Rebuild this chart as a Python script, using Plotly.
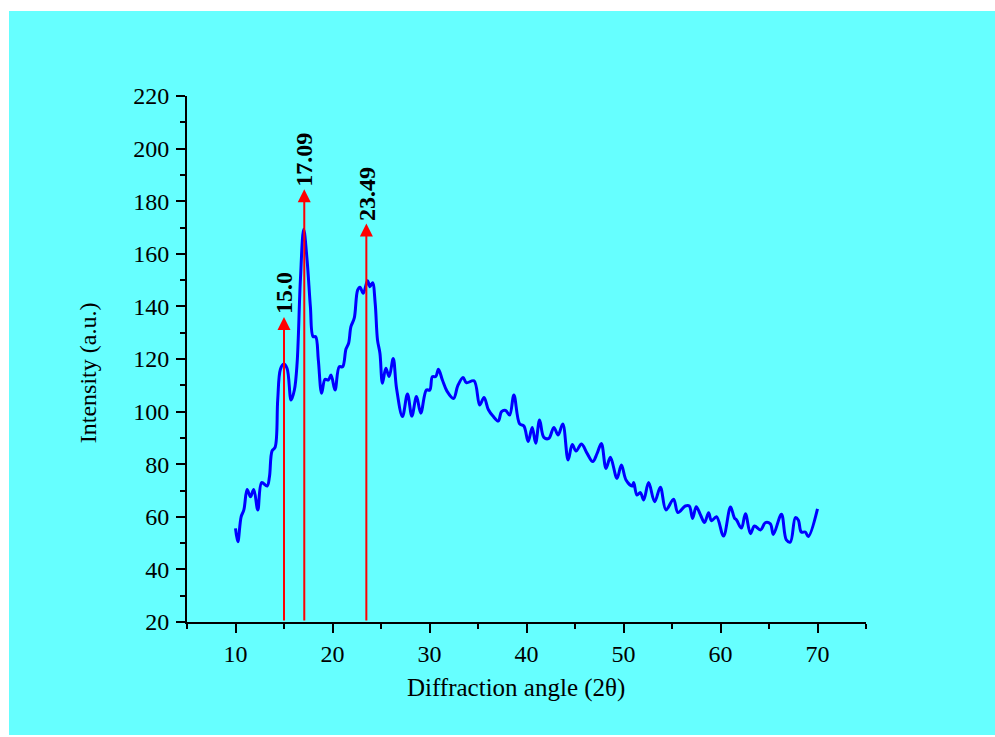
import plotly.graph_objects as go

# Diffraction data (2θ, intensity)
two_theta = [10.00, 10.24, 10.58, 10.86, 11.20, 11.54, 11.88, 12.30, 12.70, 13.26, 13.50, 13.77,
             14.08, 14.35, 14.63, 14.97, 15.32, 15.73, 16.07, 16.35, 16.69, 17.03, 17.38, 17.72,
             18.00, 18.26, 18.54, 18.88, 19.23, 19.57, 19.85, 20.26, 20.70, 21.04, 21.39, 21.66,
             21.90, 22.24, 22.59, 22.83, 23.17, 23.61, 23.86, 24.13, 24.40, 24.64, 24.89, 25.15,
             25.50, 25.84, 26.26, 26.60, 27.21, 27.73, 28.18, 28.66, 29.10, 29.68, 30.03, 30.30,
             30.64, 30.92, 31.33, 31.80, 32.48, 32.92, 33.46, 33.80, 34.59, 35.17, 35.62, 36.06,
             36.54, 37.09, 37.43, 37.85, 38.26, 38.70, 39.29, 39.73, 40.17, 40.59, 40.94, 41.35,
             41.79, 42.30, 42.82, 43.26, 43.74, 44.29, 44.72, 45.11, 45.67, 46.25, 46.83, 47.28,
             47.72, 48.20, 48.65, 49.33, 49.78, 50.26, 50.88, 51.05, 51.39, 51.74, 52.08, 52.59,
             53.21, 53.80, 54.38, 55.16, 55.61, 56.37, 56.78, 57.12, 57.50, 57.94, 58.35, 58.77,
             59.07, 59.59, 60.31, 61.03, 61.44, 61.65, 62.16, 62.57, 63.09, 63.50, 64.12, 64.63,
             65.14, 65.45, 66.28, 66.79, 67.20, 67.72, 68.02, 68.33, 68.74, 69.05, 70.00]
intensity = [55.6, 50.5, 60.0, 62.6, 70.4, 67.6, 70.4, 62.6, 73.0, 71.7, 75.2, 85.1,
             86.4, 104.4, 116.1, 118.1, 116.4, 104.4, 108.2, 118.4, 150.0, 169.3, 157.6, 139.9,
             128.5, 128.5, 119.6, 107.0, 112.3, 112.0, 113.9, 108.2, 117.1, 117.0, 123.8, 126.0,
             132.3, 135.5, 146.2, 147.3, 145.0, 149.8, 147.5, 149.0, 141.2, 127.2, 122.2, 110.8,
             116.5, 113.3, 120.2, 108.9, 98.1, 106.7, 98.3, 105.7, 99.4, 108.2, 108.2, 113.3,
             113.3, 116.1, 112.0, 107.8, 105.0, 109.9, 113.0, 111.0, 111.7, 102.5, 105.4, 100.8,
             98.3, 96.4, 100.0, 100.4, 98.7, 106.3, 95.3, 94.5, 88.6, 94.0, 88.0, 96.8,
             90.2, 89.8, 94.0, 91.1, 95.3, 81.6, 87.5, 85.0, 87.7, 84.1, 81.0, 84.1,
             87.9, 78.4, 82.6, 74.6, 79.7, 74.0, 71.7, 73.0, 68.3, 69.2, 66.4, 73.0,
             65.7, 71.2, 62.6, 66.7, 61.6, 64.1, 64.1, 59.4, 63.8, 60.7, 57.8, 61.5,
             58.5, 60.0, 52.7, 63.7, 59.5, 58.8, 55.7, 61.2, 53.6, 56.5, 55.0, 57.8,
             57.3, 53.3, 61.0, 51.2, 50.4, 59.7, 58.8, 54.2, 54.2, 52.5, 63.0]

# Peak markers
peak_pos = [15.0, 17.09, 23.49]
peak_labels = ["15.0", "17.09", "23.49"]
peak_tip = [136.0, 184.5, 171.5]

x_ticks = [10, 20, 30, 40, 50, 60, 70]
y_ticks = [20, 40, 60, 80, 100, 120, 140, 160, 180, 200, 220]

CYAN = "#66FFFF"
FONT = "Liberation Serif, Times New Roman, serif"

fig = go.Figure()
fig.add_trace(go.Scatter(
    x=two_theta, y=intensity, mode="lines",
    line=dict(color="#0000FF", width=3, shape="spline", smoothing=1.0),
    showlegend=False, hoverinfo="skip"))

annotations = []
for xp, lab, tip in zip(peak_pos, peak_labels, peak_tip):
    annotations.append(dict(
        x=xp, y=tip, ax=xp, ay=20, xref="x", yref="y", axref="x", ayref="y",
        text="", showarrow=True, arrowhead=2, arrowsize=1.3, arrowwidth=2,
        arrowcolor="#FF0000", standoff=0, startstandoff=0))
    annotations.append(dict(
        x=xp, y=tip, xref="x", yref="y", text="<b>%s</b>" % lab, showarrow=False,
        textangle=-90, xanchor="center", yanchor="bottom", yshift=1,
        font=dict(family=FONT, size=24, color="black")))

annotations.append(dict(
    x=-0.1458, y=0.473, xref="paper", yref="paper", text="Intensity (a.u.)",
    textangle=-90, showarrow=False, xanchor="center", yanchor="middle",
    font=dict(family=FONT, size=24, color="black")))
annotations.append(dict(
    x=0.4845, y=-0.1255, xref="paper", yref="paper", text="Diffraction angle (2θ)",
    showarrow=False, xanchor="center", yanchor="middle",
    font=dict(family=FONT, size=25, color="black")))

fig.update_layout(
    width=995, height=737,
    margin=dict(l=187, r=129, t=96, b=115, pad=0),
    paper_bgcolor="white", plot_bgcolor=CYAN,
    font=dict(family=FONT, size=22, color="black"),
    annotations=annotations,
    shapes=[dict(type="rect", xref="paper", yref="paper",
                 x0=(9 - 187) / 679, x1=(995 - 187) / 679,
                 y0=(622 - 735) / 526, y1=(622 - 11) / 526,
                 fillcolor=CYAN, line=dict(width=0), layer="below")],
    xaxis=dict(range=[5, 75], tickvals=x_ticks, ticktext=[str(v) for v in x_ticks],
               showgrid=False, zeroline=False, showline=True, linecolor="black", linewidth=2,
               ticks="outside", ticklen=9, tickwidth=2, tickcolor="black",
               ticklabelstandoff=0,
               minor=dict(tickvals=[5, 15, 25, 35, 45, 55, 65, 75], ticks="outside",
                          ticklen=5, tickwidth=2, tickcolor="black"),
               tickfont=dict(family=FONT, size=24)),
    yaxis=dict(range=[20, 220], tickvals=y_ticks, ticktext=[str(v) for v in y_ticks],
               showgrid=False, zeroline=False, showline=True, linecolor="black", linewidth=2,
               ticks="outside", ticklen=9, tickwidth=2, tickcolor="black",
               ticklabelstandoff=2,
               minor=dict(tickvals=[30, 50, 70, 90, 110, 130, 150, 170, 190, 210],
                          ticks="outside", ticklen=5, tickwidth=2, tickcolor="black"),
               tickfont=dict(family=FONT, size=24)),
)

fig.write_html("out.html")
